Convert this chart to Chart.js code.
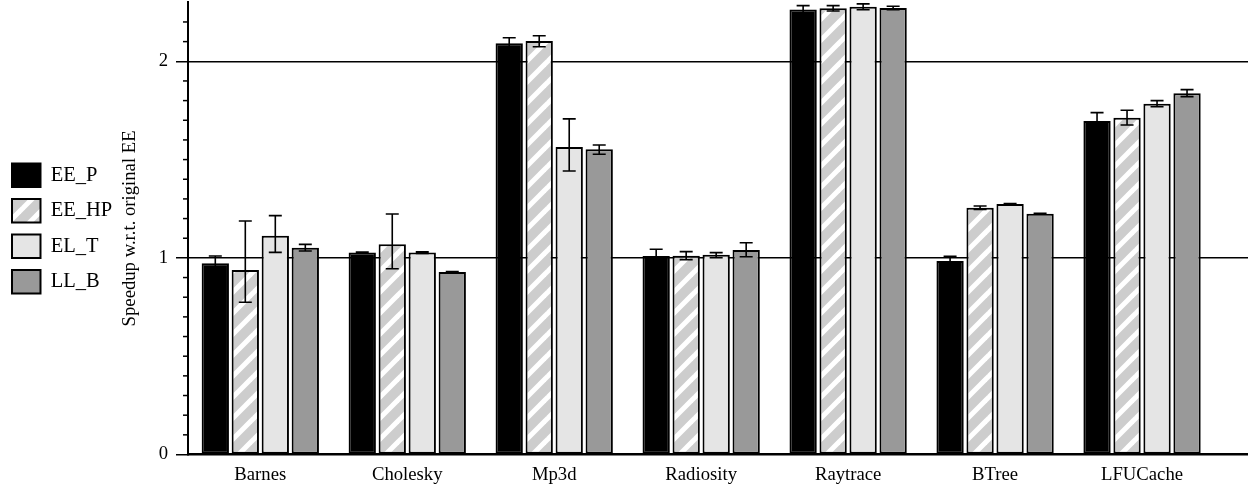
<!DOCTYPE html>
<html>
<head>
<meta charset="utf-8">
<title>Speedup w.r.t. original EE</title>
<script src="https://cdn.jsdelivr.net/npm/chart.js@4.4.1/dist/chart.umd.min.js"></script>
<style>
  html, body { margin: 0; padding: 0; background: #ffffff; }
  canvas { display: block; }
</style>
</head>
<body>
<canvas id="speedup" width="1248" height="488"></canvas>
<script>
// Benchmarks on the x axis
const benchmarks = ['Barnes', 'Cholesky', 'Mp3d', 'Radiosity', 'Raytrace', 'BTree', 'LFUCache'];

// Mean speedup per configuration, with the low / high ends of each error bar
const eeP     = [0.973, 1.027, 2.092, 1.010, 2.264, 0.984, 1.696];
const eePLow  = [0.936, 1.024, 2.064, 0.976, 2.245, 0.960, 1.653];
const eePHigh = [1.010, 1.030, 2.120, 1.044, 2.283, 1.008, 1.739];

const eeHP     = [0.938, 1.069, 2.103, 1.011, 2.270, 1.255, 1.713];
const eeHPLow  = [0.774, 0.945, 2.074, 0.991, 2.256, 1.247, 1.676];
const eeHPHigh = [1.188, 1.223, 2.130, 1.032, 2.283, 1.264, 1.751];

const elT     = [1.113, 1.027, 1.564, 1.016, 2.278, 1.274, 1.784];
const elTLow  = [1.028, 1.023, 1.442, 1.001, 2.262, 1.271, 1.769];
const elTHigh = [1.215, 1.031, 1.707, 1.027, 2.292, 1.277, 1.800];

const llB     = [1.052, 0.928, 1.552, 1.040, 2.271, 1.225, 1.837];
const llBLow  = [1.035, 0.925, 1.527, 1.006, 2.262, 1.223, 1.820];
const llBHigh = [1.069, 0.931, 1.574, 1.077, 2.280, 1.227, 1.856];

// Y axis: labelled at whole numbers, minor marks every tenth
const yMin = 0;
const yMax = 2.3;
const yStep = 0.1;

const FONT = 'Liberation Serif, Times New Roman, serif';
const isWhole = v => Math.abs(v - Math.round(v)) < 1e-6;

// Grey fill with white "/" stripes
function stripePattern() {
  const s = 21;
  const c = document.createElement('canvas');
  c.width = c.height = s;
  const g = c.getContext('2d');
  g.fillStyle = '#cdcdcd';
  g.fillRect(0, 0, s, s);
  g.strokeStyle = '#ffffff';
  g.lineWidth = 5;
  for (const o of [-s, 0, s]) {
    g.beginPath();
    g.moveTo(o - 3, s + 3);
    g.lineTo(o + s + 3, -3);
    g.stroke();
  }
  return g.createPattern(c, 'repeat');
}

const points = vals => vals.map((v, i) => ({ x: i, y: v }));

function series(label, vals, low, high, fill) {
  return {
    label,
    data: points(vals),
    errLow: low,
    errHigh: high,
    backgroundColor: fill,
    borderColor: '#000000',
    borderWidth: 2,
    borderSkipped: false,
    categoryPercentage: 0.8166,
    barPercentage: 0.91
  };
}

// Vertical error bars with caps, drawn over the bars
const errorBars = {
  id: 'errorBars',
  afterDatasetsDraw(chart) {
    const ctx = chart.ctx;
    const y = chart.scales.y;
    const half = 6.5;
    ctx.save();
    ctx.strokeStyle = '#000000';
    ctx.lineWidth = 1.6;
    chart.data.datasets.forEach((ds, i) => {
      chart.getDatasetMeta(i).data.forEach((bar, j) => {
        const top = y.getPixelForValue(ds.errHigh[j]);
        const bot = y.getPixelForValue(ds.errLow[j]);
        ctx.beginPath();
        ctx.moveTo(bar.x, top); ctx.lineTo(bar.x, bot);
        ctx.moveTo(bar.x - half, top); ctx.lineTo(bar.x + half, top);
        ctx.moveTo(bar.x - half, bot); ctx.lineTo(bar.x + half, bot);
        ctx.stroke();
      });
    });
    ctx.restore();
  }
};

// Short outward marks for the unlabelled tenths on the y axis
const minorTicks = {
  id: 'minorTicks',
  afterDraw(chart) {
    const s = chart.scales.y;
    const ctx = chart.ctx;
    ctx.save();
    ctx.strokeStyle = '#000000';
    ctx.lineWidth = 1.5;
    s.ticks.forEach(t => {
      if (isWhole(t.value) || t.value > yMax - 1e-6) return;
      const py = s.getPixelForValue(t.value);
      ctx.beginPath();
      ctx.moveTo(s.right - 5, py);
      ctx.lineTo(s.right, py);
      ctx.stroke();
    });
    ctx.restore();
  }
};

new Chart(document.getElementById('speedup'), {
  type: 'bar',
  data: {
    datasets: [
      series('EE_P', eeP, eePLow, eePHigh, '#000000'),
      series('EE_HP', eeHP, eeHPLow, eeHPHigh, stripePattern()),
      series('EL_T', elT, elTLow, elTHigh, '#e5e5e5'),
      series('LL_B', llB, llBLow, llBHigh, '#999999')
    ]
  },
  plugins: [errorBars, minorTicks],
  options: {
    responsive: false,
    devicePixelRatio: 1,
    animation: false,
    layout: { padding: { top: 2.3, right: 0, bottom: 0, left: 0 } },
    plugins: {
      tooltip: { enabled: false },
      legend: {
        position: 'left',
        align: 'center',
        fullSize: false,
        labels: {
          boxWidth: 28.5,
          boxHeight: 23.5,
          padding: 12,
          color: '#000000',
          font: { family: FONT, size: 20.5 }
        }
      }
    },
    scales: {
      x: {
        type: 'linear',
        offset: false,
        min: -0.492,
        max: 6.721,
        afterBuildTicks(s) {
          s.ticks = benchmarks.map((_, i) => ({ value: i }));
        },
        afterFit(s) {
          s.height = 33.5;
          s.paddingLeft = 0;
          s.paddingRight = 0;
        },
        grid: { display: false, drawTicks: false, offset: false },
        border: { display: true, color: '#000000', width: 2.5 },
        ticks: {
          autoSkip: false,
          maxRotation: 0,
          padding: 9,
          color: '#000000',
          font: { family: FONT, size: 18.7 },
          callback: v => benchmarks[v] ?? ''
        }
      },
      y: {
        min: yMin,
        max: yMax,
        afterFit(s) {
          const lg = s.chart.legend;
          s.width = 188 - (lg ? lg.width : 0);
          s.paddingTop = 0;
          s.paddingBottom = 0;
        },
        grid: {
          drawTicks: true,
          tickLength: 12,
          lineWidth: 1.5,
          tickWidth: 1.5,
          color: c => (isWhole(c.tick.value) && c.tick.value > 0) ? '#000000' : 'rgba(0,0,0,0)',
          tickColor: c => isWhole(c.tick.value) ? '#000000' : 'rgba(0,0,0,0)'
        },
        border: { display: true, color: '#000000', width: 2 },
        ticks: {
          stepSize: yStep,
          autoSkip: false,
          padding: 8,
          color: '#000000',
          font: { family: FONT, size: 18.7 },
          callback: v => isWhole(v) ? String(Math.round(v)) : ''
        },
        title: {
          display: true,
          text: 'Speedup w.r.t. original EE',
          color: '#000000',
          font: { family: FONT, size: 18.7 },
          padding: { top: -3, bottom: 0 }
        }
      }
    }
  }
});
</script>
</body>
</html>
